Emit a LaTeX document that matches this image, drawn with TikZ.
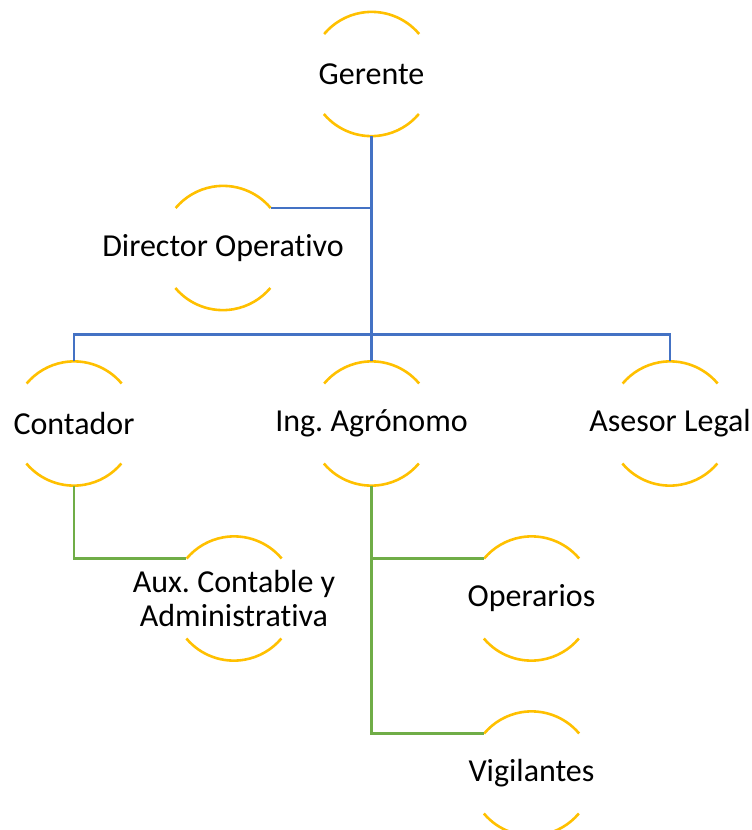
\documentclass[tikz,border=0pt]{standalone}
\usepackage{fontspec}
\setmainfont{Carlito}[Ligatures={NoCommon}]
\usetikzlibrary{positioning,calc}
\frenchspacing

\definecolor{ringGold}{HTML}{FFC000}
\definecolor{lineBlue}{HTML}{4472C4}
\definecolor{lineGreen}{HTML}{70AD47}

\begin{document}
\begin{tikzpicture}[x=1pt,y=1pt,every text node part/.style={align=center}]
\tikzset{myFont/.style={font=\fontsize{32}{34}\selectfont}}
\tikzset{ring/.style={circle,draw=none,minimum size=124pt,inner sep=0pt,on grid}}
\tikzset{myGold/.style={draw=ringGold,line width=2.6pt}}
\tikzset{myBlue/.style={draw=lineBlue,line width=2.6pt}}
\tikzset{myGreen/.style={draw=lineGreen,line width=2.6pt}}

\useasboundingbox (0,0) rectangle (752,-830);

\node[ring,label={[myFont]center:Gerente}] (ger) at (371.5,-74) {};
\node[ring,label={[myFont]center:Director Operativo},below left=174pt and 148.5pt of ger] (dir) {};
\node[ring,label={[myFont]center:Ing. Agrónomo},below=349.5pt of ger] (ing) {};
\node[ring,label={[myFont]center:Contador},left=297.5pt of ing] (cont) {};
\node[ring,label={[myFont]center:Asesor Legal},right=298.5pt of ing] (ases) {};
\node[ring,label={[myFont]center:Aux. Contable y\\Administrativa},below right=175pt and 160pt of cont] (aux) {};
\node[ring,label={[myFont]center:Operarios},below right=175pt and 160pt of ing] (oper) {};
\node[ring,label={[myFont]center:Vigilantes},below=175pt of oper] (vig) {};

% open rings
\foreach \n in {ger,dir,cont,ing,ases,aux,oper,vig}{
  \draw[myGold] (\n.40) arc[start angle=40,end angle=140,radius=62pt];
  \draw[myGold] (\n.-140) arc[start angle=-140,end angle=-40,radius=62pt];
}

\coordinate (split) at ($(ger.south)+(0,-198)$);
\path[myBlue] (ger.south) |- (dir.40);
\path[myBlue] (ger.south) -- (ing.north);
\path[myBlue] (cont.north) |- (split) -| (ases.north);

\path[myGreen] (cont.south) |- (aux.140);
\path[myGreen] (ing.south) |- (oper.140);
\path[myGreen] (ing.south) |- (vig.140);

\end{tikzpicture}
\end{document}
